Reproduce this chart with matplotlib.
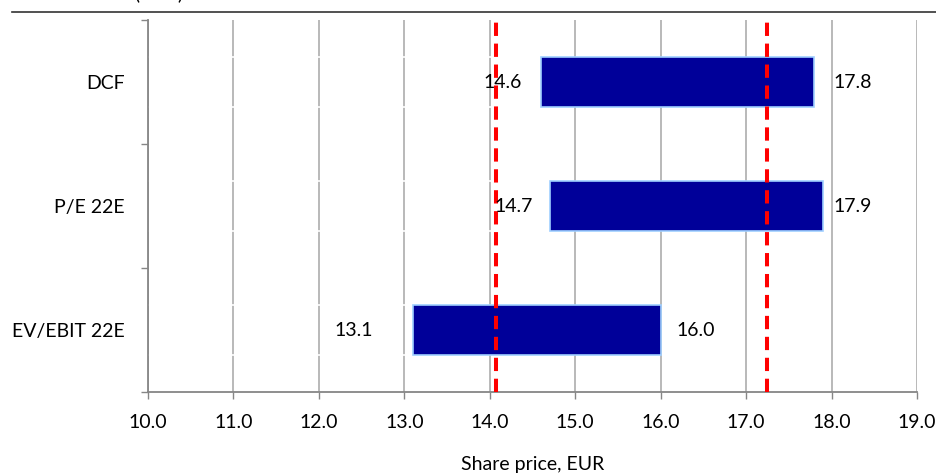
import matplotlib.pyplot as plt
from matplotlib.ticker import FixedLocator

plt.rcParams['font.family'] = ['Lato', 'DejaVu Sans']

methods = ['DCF', 'P/E 22E', 'EV/EBIT 22E']
low = [14.6, 14.7, 13.1]
high = [17.8, 17.9, 16.0]
ref_lines = [14.07, 17.25]
x_ticks = [10.0, 11.0, 12.0, 13.0, 14.0, 15.0, 16.0, 17.0, 18.0, 19.0]

# label gaps in pixels (excel put them a bit unevenly)
low_gap = [19, 17, 40]
high_gap = [19, 10, 16]

dpi = 100
fig = plt.figure(figsize=(9.36, 4.74), dpi=dpi)
ax = fig.add_axes([148 / 936, 1 - 392 / 474, 769 / 936, 372 / 474])

ypos = [len(methods) - 1 - i for i in range(len(methods))]
widths = [h - l for l, h in zip(low, high)]

# invisible base + visible range bar
ax.barh(ypos, low, height=0.4, color='none', edgecolor='white', linewidth=1.2, zorder=2)
ax.barh(ypos, widths, left=low, height=0.4, color='#000099', edgecolor='#9fcfff',
        linewidth=1.2, zorder=3)

for v in ref_lines:
    ax.axvline(v, color='#ff0000', linewidth=2.9, dashes=(3.3, 1.9), zorder=4)

fs = 14
for y, l, h, lg, hg in zip(ypos, low, high, low_gap, high_gap):
    ax.annotate(f'{l:.1f}', (l, y), xytext=(-lg * 0.72, 0), textcoords='offset points',
                ha='right', va='center', fontsize=fs, zorder=5)
    ax.annotate(f'{h:.1f}', (h, y), xytext=(hg * 0.72, 0), textcoords='offset points',
                ha='left', va='center', fontsize=fs, zorder=5)

ax.set_xlim(10, 19)
ax.set_ylim(-0.5, len(methods) - 0.5)
ax.set_xticks(x_ticks)
ax.set_xticklabels([f'{t:.1f}' for t in x_ticks], fontsize=fs)
ax.set_yticks(ypos)
ax.set_yticklabels(methods, fontsize=fs)
ax.yaxis.set_minor_locator(FixedLocator([-0.5, 0.5, 1.5, 2.5]))
ax.tick_params(axis='y', which='major', length=0, pad=17)
ax.tick_params(axis='y', which='minor', length=5, width=1, color='#868686')
ax.tick_params(axis='x', length=5, width=1, color='#868686', pad=11)

ax.grid(axis='x', color='#b3b3b3', linewidth=1.3)
ax.set_axisbelow(True)
for side in ['top', 'right']:
    ax.spines[side].set_visible(False)
for side in ['left', 'bottom']:
    ax.spines[side].set_color('#868686')
    ax.spines[side].set_linewidth(1.3)

ax.set_xlabel('Share price, EUR', fontsize=fs, labelpad=18)

# cut-off heading and rule from the report page
fig.text(183 / 936, 1 + 1 / 474, 'Valuation (EUR)', ha='right', va='baseline',
         fontsize=fs)
fig.add_artist(plt.Line2D([12 / 936, 1], [1 - 12 / 474, 1 - 12 / 474],
                          color='#333333', linewidth=1.2))

fig.savefig('out.png', dpi=dpi)
